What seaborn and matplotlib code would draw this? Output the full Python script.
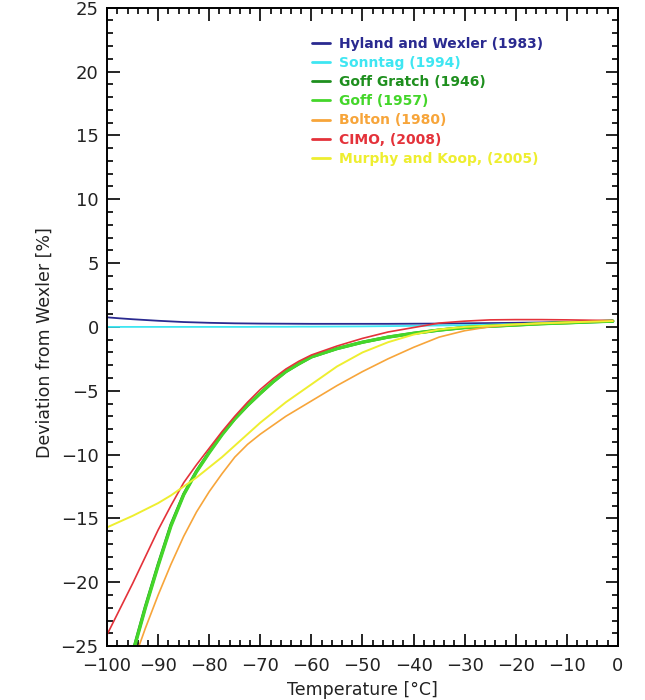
import numpy as np
import pandas as pd
import matplotlib
matplotlib.use("Agg")
import matplotlib.pyplot as plt
from matplotlib.ticker import MultipleLocator
import seaborn as sns

# Temperature grid [°C]
temperature = [-100, -97.5, -95, -92.5, -90, -87.5, -85, -82.5, -80, -77.5, -75,
               -72.5, -70, -67.5, -65, -62.5, -60, -55, -50, -45, -40, -35,
               -30, -25, -20, -15, -10, -5, -1]

# Deviation of each saturation vapour pressure formula from Wexler [%]
hyland_wexler = [0.75, 0.67, 0.60, 0.54, 0.48, 0.43, 0.38, 0.35, 0.32, 0.30, 0.28,
                 0.27, 0.26, 0.255, 0.25, 0.245, 0.24, 0.24, 0.24, 0.24, 0.25, 0.26,
                 0.28, 0.30, 0.32, 0.35, 0.38, 0.40, 0.42]
sonntag = [0.0, 0.0, 0.0, 0.0, 0.0, 0.0, 0.0, 0.0, 0.0, 0.0, 0.0,
           0.0, 0.01, 0.01, 0.01, 0.02, 0.02, 0.03, 0.04, 0.06, 0.08, 0.11,
           0.14, 0.18, 0.22, 0.27, 0.32, 0.36, 0.40]
goff_gratch = [-33.7, -29.5, -25.5, -21.9, -18.6, -15.5, -13.1, -11.3, -9.8, -8.4, -7.2,
               -6.15, -5.2, -4.3, -3.5, -2.9, -2.35, -1.7, -1.2, -0.8, -0.5, -0.25,
               -0.05, 0.05, 0.15, 0.25, 0.32, 0.40, 0.45]
goff = [-33.8, -29.6, -25.6, -22.0, -18.7, -15.6, -13.15, -11.35, -9.85, -8.45, -7.2,
        -6.15, -5.2, -4.3, -3.5, -2.9, -2.35, -1.7, -1.2, -0.8, -0.5, -0.25,
        -0.05, 0.05, 0.15, 0.25, 0.32, 0.40, 0.45]
bolton = [-33.0, -29.6, -26.4, -23.6, -21.0, -18.6, -16.4, -14.5, -12.9, -11.5, -10.2,
          -9.2, -8.4, -7.7, -7.0, -6.4, -5.8, -4.6, -3.5, -2.5, -1.6, -0.8,
          -0.3, 0.02, 0.18, 0.28, 0.35, 0.42, 0.46]
cimo = [-24.1, -22.1, -20.1, -18.0, -15.9, -14.0, -12.2, -10.8, -9.5, -8.2, -7.0,
        -5.9, -4.9, -4.05, -3.3, -2.7, -2.2, -1.5, -0.9, -0.4, -0.05, 0.3,
        0.45, 0.55, 0.57, 0.57, 0.55, 0.52, 0.50]
murphy_koop = [-15.7, -15.25, -14.8, -14.3, -13.8, -13.2, -12.5, -11.8, -11.0, -10.2, -9.3,
               -8.4, -7.5, -6.7, -5.9, -5.2, -4.5, -3.1, -2.0, -1.2, -0.6, -0.2,
               0.0, 0.1, 0.2, 0.28, 0.35, 0.42, 0.46]

labels = ["Hyland and Wexler (1983)", "Sonntag (1994)", "Goff Gratch (1946)",
          "Goff (1957)", "Bolton (1980)", "CIMO, (2008)", "Murphy and Koop, (2005)"]
series = [hyland_wexler, sonntag, goff_gratch, goff, bolton, cimo, murphy_koop]
colors = ["#2a2a90", "#3ee6f2", "#1e8f1e", "#44d62a", "#f7a53a", "#e4323a", "#eeee30"]
widths = [1.3, 1.3, 2.2, 2.4, 1.2, 1.2, 1.4]

sns.set_style("ticks")
plt.rcParams["font.family"] = ["DejaVu Sans"]

fig = plt.figure(figsize=(6.45, 7.0), dpi=100)
ax = fig.add_axes([0.166, 0.077, 0.792, 0.912])

for lab, vals, col, lw in zip(labels, series, colors, widths):
    df = pd.DataFrame({"T": temperature, "dev": vals})
    sns.lineplot(data=df, x="T", y="dev", ax=ax, color=col, lw=lw,
                 label=lab, sort=False)

ax.set_xlim(-100, 0)
ax.set_ylim(-25, 25)
ax.xaxis.set_major_locator(MultipleLocator(10))
ax.xaxis.set_minor_locator(MultipleLocator(2))
ax.yaxis.set_major_locator(MultipleLocator(5))
ax.yaxis.set_minor_locator(MultipleLocator(1))
ax.tick_params(which="both", direction="in", top=True, right=True,
               color="black", width=1.2, labelsize=13, labelcolor="#222222")
ax.tick_params(which="major", length=9, pad=6)
ax.tick_params(axis="x", which="major", pad=8)
ax.tick_params(which="minor", length=4.5)
for sp in ax.spines.values():
    sp.set_linewidth(1.4)
    sp.set_color("black")

ax.set_xlabel("Temperature [°C]", fontsize=12.5, color="#222222", labelpad=4)
ax.set_ylabel("Deviation from Wexler [%]", fontsize=12.5, color="#222222")
ax.yaxis.set_label_coords(-0.105, 0.476)

leg = ax.legend(loc="upper left", bbox_to_anchor=(0.39, 0.963), frameon=False,
                handlelength=1.3, handletextpad=0.65, labelspacing=0.37,
                prop={"weight": "bold", "size": 10}, labelcolor="linecolor",
                borderaxespad=0)
for h in leg.get_lines():
    h.set_linewidth(2.0)

fig.savefig("out.png", dpi=100)
